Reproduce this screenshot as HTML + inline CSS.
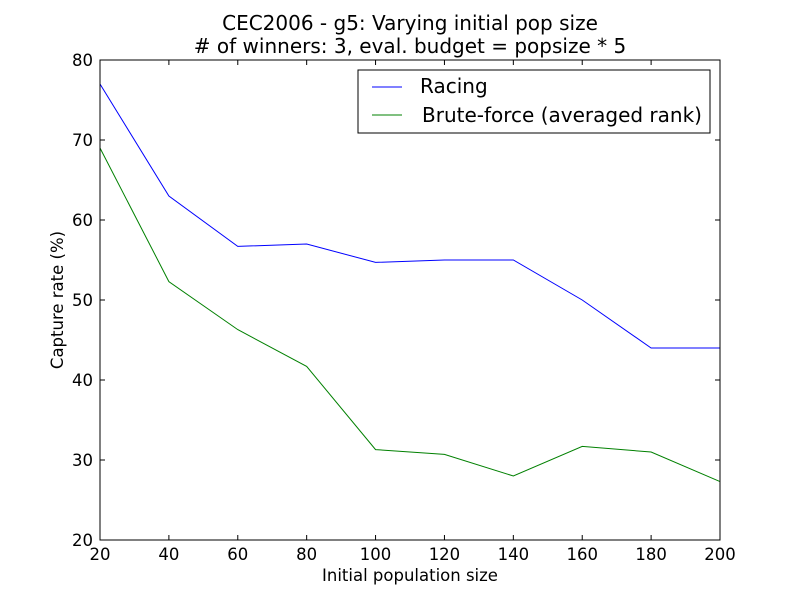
<!DOCTYPE html>
<html><head><meta charset="utf-8"><style>
body{margin:0;background:#fff;}
svg{display:block;font-family:"DejaVu Sans","Liberation Sans",sans-serif;}
</style></head><body>
<svg id="chart" width="800" height="600" viewBox="0 0 800 600">
<rect width="800" height="600" fill="#fff"/>
<text x="410" y="30" font-size="20" text-anchor="middle">CEC2006 - g5: Varying initial pop size</text>
<text x="410" y="53" font-size="20" text-anchor="middle"># of winners: 3, eval. budget = popsize * 5</text>
<g id="ticks"></g>
<g id="series"></g>
<rect x="100" y="60" width="620" height="480" fill="none" stroke="#000" stroke-width="1"/>
<text x="410" y="581" font-size="16.5" text-anchor="middle">Initial population size</text>
<text x="63" y="300" font-size="16.5" text-anchor="middle" transform="rotate(-90 63 300)">Capture rate (%)</text>
<g>
<rect x="358" y="70" width="352" height="63" fill="#fff" stroke="#000"/>
<line x1="372" y1="87" x2="402" y2="87" stroke="#0000ff"/>
<text x="420" y="93" font-size="20">Racing</text>
<line x1="372" y1="115" x2="402" y2="115" stroke="#008000"/>
<text x="422" y="122" font-size="20">Brute-force (averaged rank)</text>
</g>
</svg>
<script>
const xValues=[20,40,60,80,100,120,140,160,180,200];
const racing=[77,63,56.7,57,54.7,55,55,50,44,44];
const bruteForce=[69,52.3,46.3,41.7,31.3,30.7,28,31.7,31,27.3];
const xTicks=[20,40,60,80,100,120,140,160,180,200];
const yTicks=[20,30,40,50,60,70,80];
const NS="http://www.w3.org/2000/svg";
const xs=v=>100+(v-20)/180*620;
const ys=v=>540-(v-20)/60*480;
const tg=document.getElementById('ticks');
function mk(tag,attrs,parent){const e=document.createElementNS(NS,tag);for(const k in attrs)e.setAttribute(k,attrs[k]);parent.appendChild(e);return e;}
xTicks.forEach(t=>{
 const x=xs(t);
 const l1=mk('line',{x1:x,y1:540,x2:x,y2:535,stroke:'#000'},tg);
 
 
 const l2=mk('line',{x1:x,y1:60,x2:x,y2:65,stroke:'#000'},tg);
 
 
 const tx=mk('text',{x:x,y:560,'font-size':16.5,'text-anchor':'middle'},tg);
 tx.textContent=t;
 
 
});
yTicks.forEach(t=>{
 const y=ys(t);
 const l1=mk('line',{x1:100,y1:y,x2:105,y2:y,stroke:'#000'},tg);
 
 
 const l2=mk('line',{x1:720,y1:y,x2:715,y2:y,stroke:'#000'},tg);
 
 
 const tx=mk('text',{x:93,y:y+6,'font-size':16.5,'text-anchor':'end'},tg);
 tx.textContent=t;
 
 
});
const sg=document.getElementById('series');
function line(vals,color,name){
 const p=mk('polyline',{points:vals.map((v,i)=>xs(xValues[i])+','+ys(v)).join(' '),fill:'none',stroke:color,'stroke-width':1},sg);
 
 
}
line(racing,'#0000ff','racing-line');
line(bruteForce,'#008000','brute-force-line');
</script>
</body></html>
